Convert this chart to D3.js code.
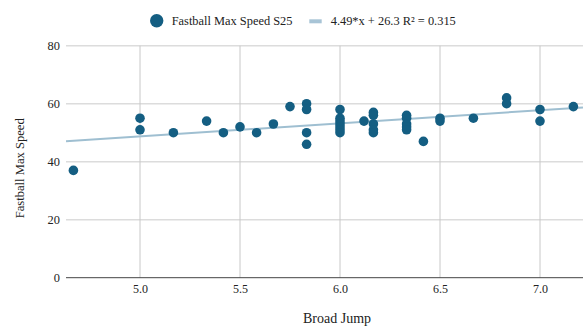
<!DOCTYPE html>
<html>
<head>
<meta charset="utf-8">
<script src="https://cdn.jsdelivr.net/npm/d3@7"></script>
<style>
  body { margin: 0; background: #fff; }
  svg { display: block; font-family: "Liberation Serif", "DejaVu Serif", serif; }
</style>
</head>
<body>
<svg id="canvas"></svg>
<script>
// broad jump (ft) and fastball max speed
let broadJump=[4.667,5.0,5.0,5.167,5.333,5.417,5.5,5.583,5.667,5.75,5.833,5.833,5.833,5.833,
  6.0,6.0,6.0,6.0,6.0,6.0,6.0,6.12,6.167,6.167,6.167,6.167,6.167,
  6.333,6.333,6.333,6.333,6.333,6.417,6.5,6.5,6.667,6.833,6.833,7.0,7.0,7.167];
let maxSpeed=[37,55,51,50,54,50,52,50,53,59,60,58,50,46,
  58,55,54,53,52,51,50,54,57,56,53,51,50,
  56,55,53,52,51,47,55,54,55,62,60,58,54,59];
let xTicks=[5.0,5.5,6.0,6.5,7.0];
let yTicks=[0,20,40,60,80];
let slope=4.49, intercept=26.3;
let seriesName="Fastball Max Speed S25";
let trendName="4.49*x + 26.3 R\u00B2 = 0.315";

let width=583;
let height=326;
let padLeft=66, padRight=583, padTop=45.7, padBottom=277.7;

let canvas=d3.select("#canvas")
canvas.attr('width',width)
canvas.attr('height',height)

let xscale=d3.scaleLinear().domain([4.63,7.215]).range([padLeft,padRight]);
let yscale=d3.scaleLinear().domain([0,80]).range([padBottom,padTop]);

// gridlines
canvas.append('g').selectAll('line')
  .data(yTicks.filter(d=>d>0))
  .enter().append('line')
  .attr('x1',padLeft).attr('x2',padRight)
  .attr('y1',d=>yscale(d)).attr('y2',d=>yscale(d))
  .attr('stroke','#dcdcdc').attr('stroke-width',1.5);
canvas.append('g').selectAll('line')
  .data(xTicks)
  .enter().append('line')
  .attr('x1',d=>xscale(d)).attr('x2',d=>xscale(d))
  .attr('y1',padTop).attr('y2',padBottom)
  .attr('stroke','#c8c8c8').attr('stroke-width',1);

// axes (labels only, no domain)
let xAxis=d3.axisBottom(xscale).tickValues(xTicks).tickFormat(d3.format('.1f')).tickSize(0).tickPadding(6.5);
canvas.append('g')
  .attr('transform','translate(0,'+padBottom+')')
  .call(xAxis)
  .call(g=>g.select('.domain').remove())
  .selectAll('text').attr('font-size',12).attr('fill','#222').attr('font-family','Liberation Serif');
let yAxis=d3.axisLeft(yscale).tickValues(yTicks).tickFormat(d3.format('d')).tickSize(0).tickPadding(6);
canvas.append('g')
  .attr('transform','translate('+padLeft+',0)')
  .call(yAxis)
  .call(g=>g.select('.domain').remove())
  .selectAll('text').attr('font-size',12.4).attr('fill','#222').attr('font-family','Liberation Serif');

// baseline
canvas.append('line')
  .attr('x1',padLeft).attr('x2',padRight)
  .attr('y1',yscale(0)).attr('y2',yscale(0))
  .attr('stroke','#444').attr('stroke-width',1);

// trendline
let xd=xscale.domain();
canvas.append('line')
  .attr('x1',xscale(xd[0])).attr('y1',yscale(slope*xd[0]+intercept))
  .attr('x2',xscale(xd[1])).attr('y2',yscale(slope*xd[1]+intercept))
  .attr('stroke','#9fbfd1').attr('stroke-width',2);

// points
canvas.append('g').selectAll('circle')
  .data(broadJump.map((d,i)=>[d,maxSpeed[i]]))
  .enter().append('circle')
  .attr('cx',d=>xscale(d[0]))
  .attr('cy',d=>yscale(d[1]))
  .attr('r',4.8)
  .attr('fill','#145e82');

// axis titles
canvas.append('text')
  .attr('x',337).attr('y',322.7)
  .attr('text-anchor','middle').attr('font-size',14).attr('fill','#222')
  .text('Broad Jump');
canvas.append('text')
  .attr('transform','translate(24,168.3) rotate(-90)')
  .attr('text-anchor','middle').attr('font-size',12.6).attr('fill','#222')
  .text('Fastball Max Speed');

// legend
let legend=canvas.append('g');
legend.append('circle').attr('cx',156.7).attr('cy',20.7).attr('r',6.7).attr('fill','#145e82');
legend.append('text').attr('x',171.7).attr('y',24.7).attr('font-size',12.4).attr('fill','#222').text(seriesName);
legend.append('line').attr('x1',309.3).attr('x2',321.7).attr('y1',21.3).attr('y2',21.3)
  .attr('stroke','#a8c4d6').attr('stroke-width',4);
legend.append('text').attr('x',330.7).attr('y',24.7).attr('font-size',12.4).attr('fill','#222').text(trendName);
</script>
</body>
</html>
